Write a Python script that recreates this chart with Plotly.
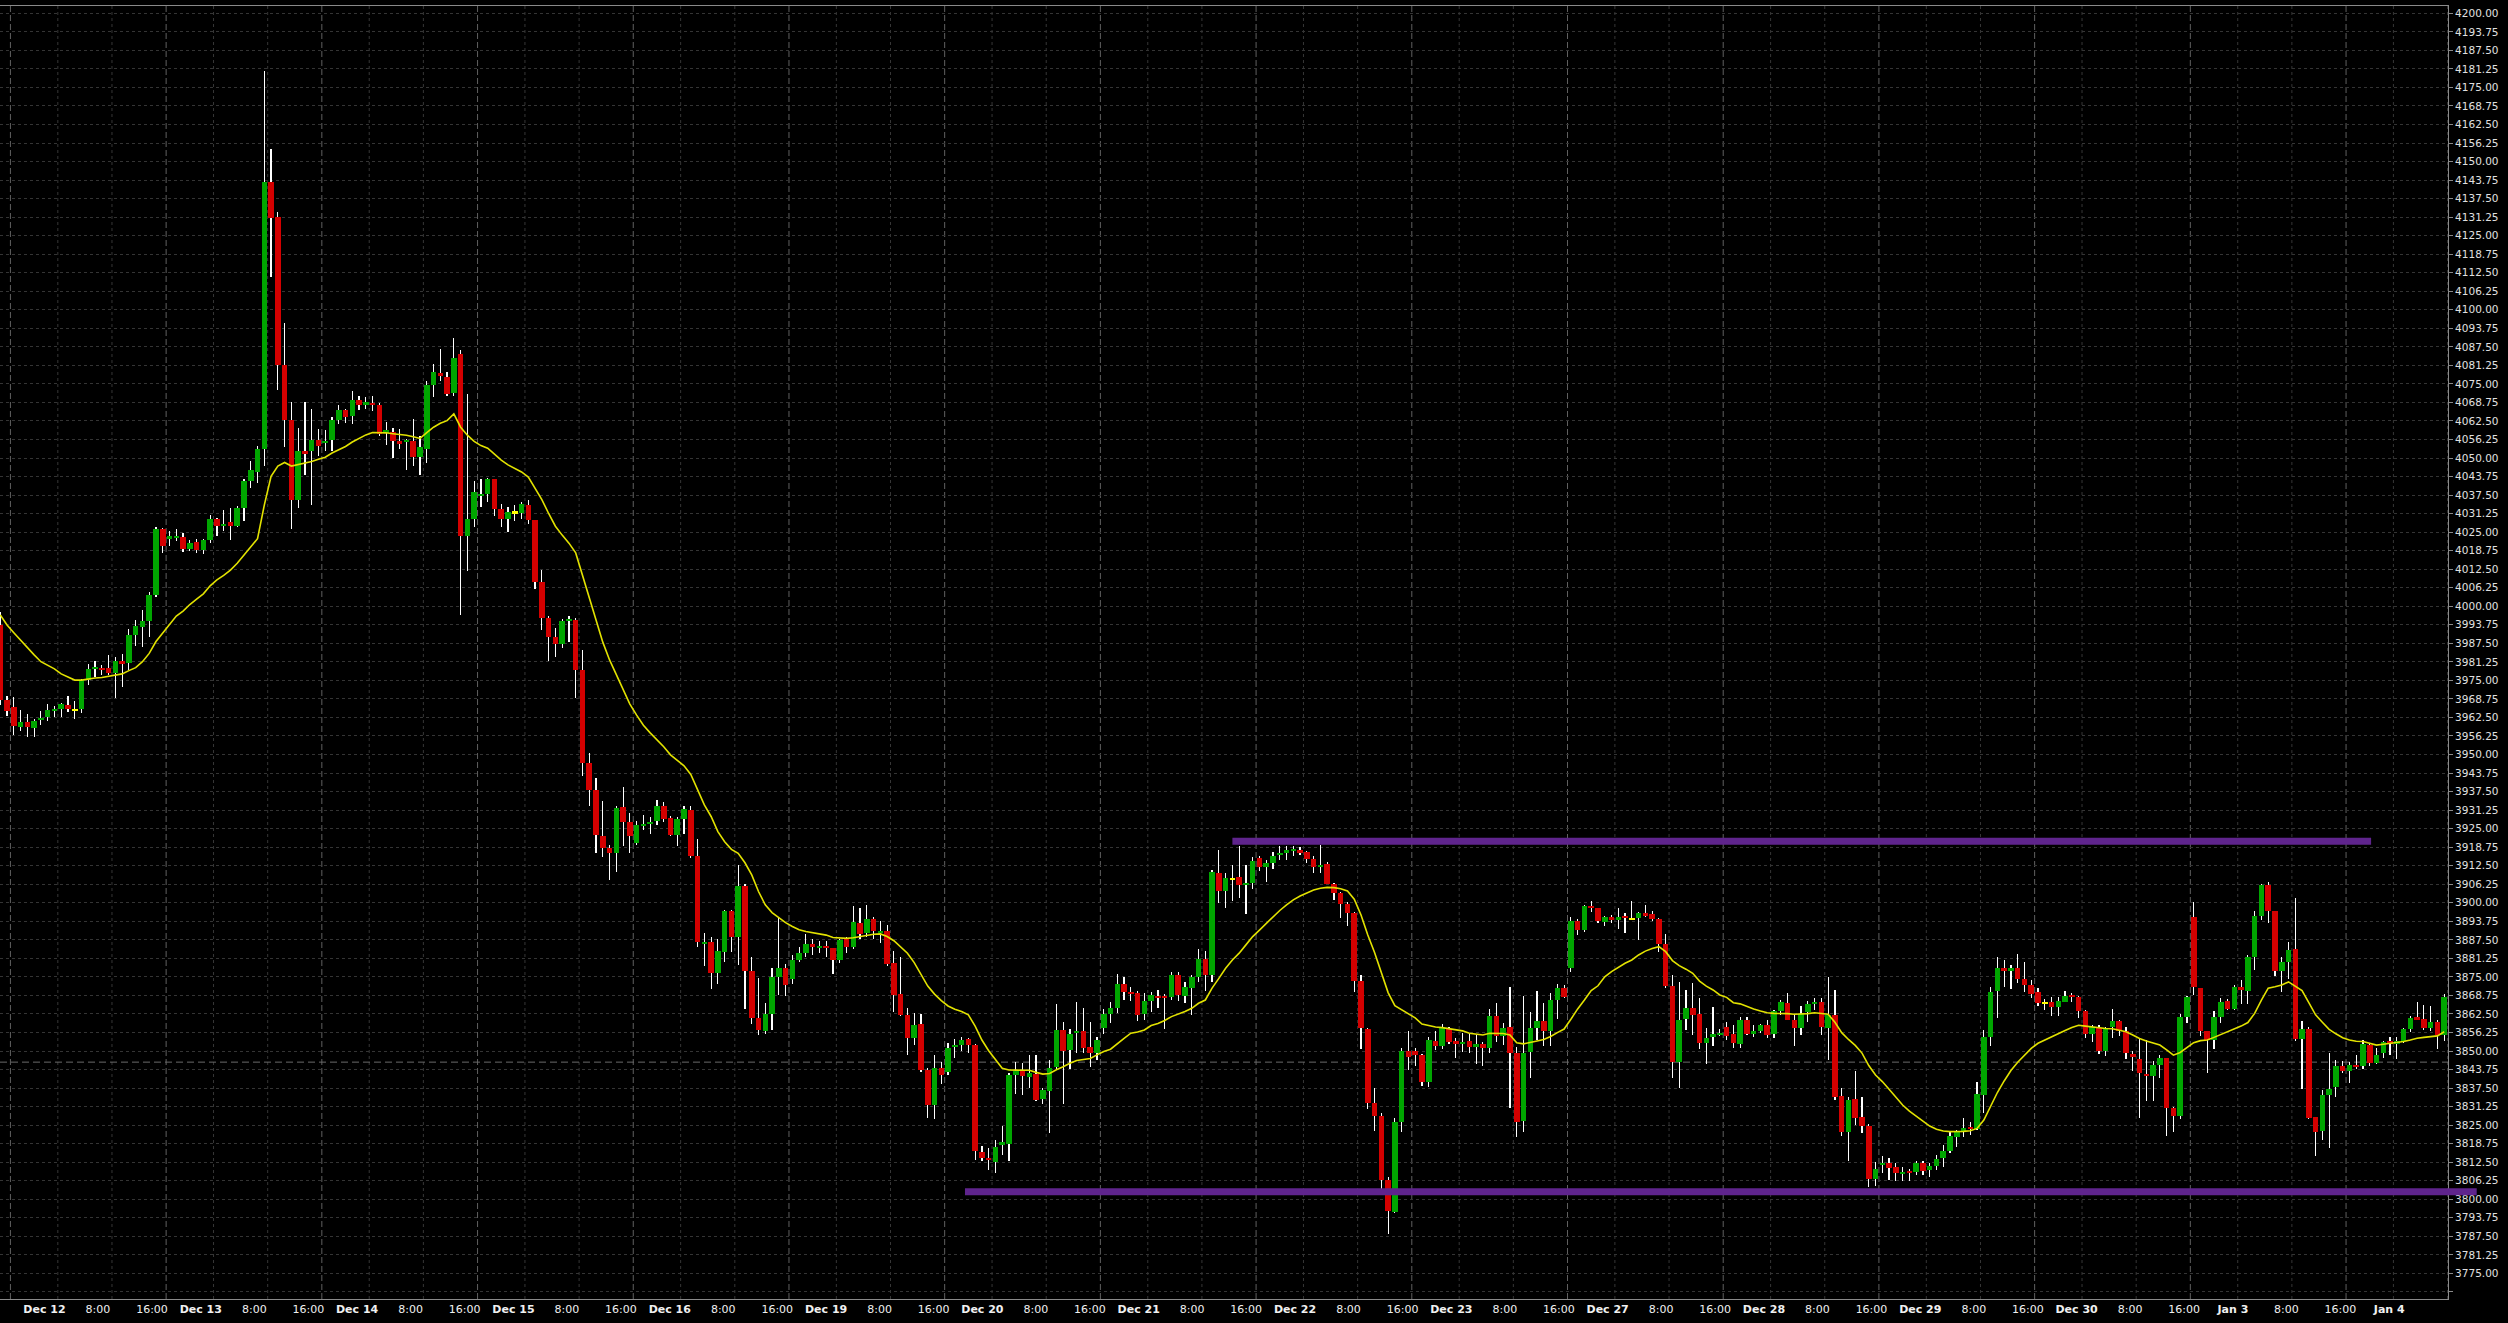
import plotly.graph_objects as go

# ---------------- data (hourly ES candles) ----------------
opens = [
    3993.7, 3968.4, 3966.0, 3959.3, 3961.0, 3959.1, 3961.7, 3962.6, 3964.7, 3965.4,
    3966.7, 3965.1, 3965.4, 3975.1, 3978.9, 3979.2, 3979.2, 3977.5, 3981.6, 3980.9,
    3990.3, 3993.0, 3995.2, 4003.9, 4026.1, 4023.0, 4022.9, 4023.5, 4019.4, 4021.7,
    4019.0, 4022.5, 4029.4, 4027.1, 4028.3, 4027.1, 4033.0, 4042.2, 4045.3, 4053.2,
    4143.1, 4131.3, 4081.3, 4062.9, 4035.8, 4052.4, 4052.4, 4056.0, 4055.0, 4056.0,
    4062.9, 4066.3, 4064.2, 4069.6, 4068.2, 4068.7, 4068.0, 4058.4, 4058.9, 4055.6,
    4055.3, 4055.7, 4050.5, 4053.2, 4074.6, 4078.6, 4077.3, 4072.0, 4085.0, 4023.7,
    4029.6, 4037.2, 4037.8, 4042.9, 4032.7, 4029.6, 4031.7, 4031.3, 4034.2, 4029.2,
    4008.3, 3996.2, 3989.8, 3987.4, 3995.0, 3995.4, 3978.6, 3947.0, 3937.9, 3922.6,
    3918.6, 3916.9, 3932.3, 3927.3, 3920.3, 3926.0, 3926.6, 3927.5, 3932.6, 3928.6,
    3923.0, 3928.2, 3931.3, 3915.9, 3886.2, 3886.8, 3876.4, 3883.5, 3897.2, 3888.6,
    3905.8, 3877.1, 3861.3, 3856.8, 3862.5, 3875.0, 3878.0, 3874.3, 3880.7, 3883.1,
    3886.2, 3885.0, 3885.4, 3884.7, 3880.8, 3887.9, 3885.2, 3893.2, 3889.9, 3894.5,
    3890.0, 3890.5, 3879.7, 3869.2, 3862.2, 3854.5, 3859.1, 3843.7, 3831.8, 3844.3,
    3843.0, 3851.2, 3852.0, 3853.9, 3852.0, 3816.1, 3813.9, 3812.5, 3818.2, 3818.8,
    3841.9, 3843.3, 3841.4, 3842.1, 3833.8, 3836.6, 3844.6, 3857.1, 3850.4, 3856.0,
    3856.8, 3851.2, 3849.5, 3857.7, 3862.5, 3864.6, 3872.6, 3869.9, 3869.5, 3862.5,
    3866.9, 3868.5, 3868.5, 3868.3, 3875.6, 3868.7, 3871.4, 3875.0, 3881.0, 3875.6,
    3910.1, 3904.1, 3908.1, 3908.7, 3905.9, 3906.7, 3915.2, 3911.9, 3913.5, 3916.2,
    3916.9, 3917.6, 3917.8, 3917.1, 3914.8, 3912.0, 3913.1, 3906.5, 3903.4, 3899.6,
    3896.5, 3873.6, 3857.4, 3832.5, 3828.2, 3806.5, 3795.8, 3826.2, 3850.1, 3850.1,
    3848.7, 3839.7, 3853.5, 3851.8, 3857.5, 3853.4, 3852.6, 3853.4, 3851.4, 3852.4,
    3851.0, 3861.8, 3855.1, 3858.0, 3849.2, 3826.5, 3849.8, 3857.8, 3860.1, 3856.9,
    3867.2, 3871.3, 3878.1, 3893.7, 3890.8, 3898.9, 3898.2, 3893.6, 3895.1, 3894.5,
    3895.5, 3894.5, 3895.0, 3896.4, 3896.2, 3894.5, 3886.1, 3871.9, 3846.3, 3860.7,
    3864.5, 3862.5, 3852.8, 3854.7, 3855.5, 3858.0, 3855.7, 3852.2, 3860.5, 3855.9,
    3856.9, 3858.8, 3855.8, 3863.5, 3866.2, 3860.5, 3857.9, 3863.2, 3865.9, 3866.5,
    3857.9, 3862.1, 3834.8, 3822.8, 3833.8, 3827.6, 3824.7, 3806.9, 3811.6, 3812.2,
    3811.0, 3808.6, 3809.5, 3809.3, 3812.2, 3810.0, 3811.3, 3814.0, 3816.3, 3821.1,
    3822.8, 3824.4, 3823.6, 3835.2, 3854.7, 3870.4, 3878.0, 3877.1, 3878.0, 3874.3,
    3872.3, 3869.9, 3866.3, 3866.5, 3864.9, 3866.6, 3868.9, 3868.2, 3863.5, 3855.9,
    3857.8, 3850.1, 3858.0, 3860.1, 3856.6, 3849.0, 3847.3, 3842.3, 3841.7, 3845.3,
    3847.8, 3830.9, 3828.2, 3861.6, 3895.3, 3871.4, 3856.9, 3853.7, 3861.6, 3866.9,
    3864.2, 3871.7, 3870.3, 3881.8, 3895.7, 3906.0, 3897.3, 3877.1, 3880.1, 3884.4,
    3854.1, 3857.4, 3827.9, 3823.0, 3835.2, 3837.7, 3845.1, 3843.1, 3845.3, 3845.1,
    3852.0, 3845.9, 3849.2, 3853.4, 3852.5, 3853.4, 3857.4, 3861.5, 3860.7, 3857.9,
    3859.8, 3855.4,
]
highs = [
    3998.2, 3969.7, 3969.5, 3965.0, 3963.7, 3961.9, 3964.7, 3967.0, 3966.2, 3967.5,
    3969.6, 3968.1, 3975.5, 3980.5, 3981.6, 3980.2, 3983.6, 3982.9, 3983.9, 3992.3,
    3995.4, 3998.8, 4004.7, 4026.8, 4026.5, 4025.3, 4026.1, 4024.6, 4022.3, 4022.7,
    4022.8, 4030.9, 4029.8, 4032.5, 4033.3, 4033.7, 4042.9, 4049.1, 4054.2, 4180.4,
    4154.2, 4133.1, 4095.6, 4068.8, 4060.1, 4068.8, 4066.7, 4059.8, 4059.3, 4063.8,
    4067.8, 4066.7, 4072.6, 4070.8, 4070.6, 4071.0, 4068.4, 4062.2, 4060.0, 4059.8,
    4056.5, 4063.3, 4057.3, 4076.0, 4081.6, 4086.8, 4078.9, 4090.6, 4086.5, 4071.6,
    4042.2, 4042.9, 4043.3, 4043.0, 4034.5, 4033.6, 4034.0, 4035.3, 4036.0, 4029.2,
    4012.2, 3996.6, 3992.7, 3995.8, 3996.6, 3996.2, 3985.3, 3950.5, 3942.2, 3934.3,
    3919.5, 3932.6, 3939.0, 3930.2, 3927.5, 3929.7, 3928.9, 3934.6, 3933.9, 3929.3,
    3928.9, 3932.6, 3932.6, 3921.5, 3889.7, 3888.6, 3887.7, 3897.5, 3897.5, 3912.8,
    3906.2, 3881.7, 3874.7, 3866.1, 3877.9, 3895.3, 3879.4, 3882.4, 3885.2, 3889.4,
    3887.8, 3887.0, 3887.0, 3884.9, 3887.7, 3888.6, 3898.9, 3898.2, 3899.3, 3895.2,
    3893.9, 3892.5, 3883.7, 3881.6, 3864.4, 3862.7, 3862.5, 3844.2, 3848.7, 3846.4,
    3852.6, 3854.0, 3854.8, 3854.5, 3852.3, 3818.0, 3817.2, 3820.0, 3824.7, 3842.5,
    3846.3, 3845.9, 3848.7, 3848.7, 3837.6, 3847.0, 3865.8, 3859.8, 3857.3, 3866.5,
    3864.6, 3859.8, 3854.7, 3864.2, 3866.5, 3876.0, 3874.9, 3871.7, 3870.4, 3869.5,
    3870.0, 3870.6, 3869.2, 3876.8, 3876.8, 3873.3, 3875.6, 3884.3, 3883.7, 3911.1,
    3917.8, 3910.2, 3912.8, 3919.0, 3912.6, 3915.6, 3915.8, 3914.4, 3917.1, 3919.2,
    3919.3, 3919.3, 3918.7, 3917.6, 3915.8, 3919.5, 3913.9, 3906.8, 3903.6, 3900.4,
    3896.8, 3875.6, 3857.7, 3837.6, 3829.0, 3807.6, 3827.5, 3850.9, 3856.9, 3850.9,
    3848.9, 3854.8, 3856.9, 3859.1, 3858.2, 3854.3, 3856.0, 3856.0, 3855.4, 3853.2,
    3864.1, 3866.3, 3859.6, 3871.7, 3851.5, 3868.6, 3863.0, 3870.2, 3866.3, 3869.5,
    3872.6, 3872.3, 3895.3, 3894.4, 3899.3, 3900.6, 3898.4, 3895.5, 3896.0, 3898.4,
    3896.7, 3900.6, 3897.0, 3899.3, 3897.2, 3894.8, 3889.5, 3875.6, 3873.2, 3870.6,
    3872.8, 3867.8, 3857.7, 3864.7, 3857.3, 3859.9, 3858.8, 3861.4, 3861.6, 3858.8,
    3859.1, 3860.5, 3863.8, 3867.2, 3869.6, 3862.2, 3865.2, 3866.9, 3867.9, 3867.9,
    3874.8, 3870.6, 3837.4, 3834.6, 3843.3, 3834.6, 3825.4, 3812.6, 3814.6, 3814.0,
    3812.4, 3811.0, 3810.3, 3812.8, 3812.8, 3812.1, 3814.8, 3818.3, 3822.8, 3823.4,
    3827.3, 3826.2, 3839.7, 3857.1, 3871.7, 3881.6, 3880.7, 3879.0, 3882.7, 3880.0,
    3874.0, 3871.1, 3867.4, 3868.3, 3868.3, 3870.4, 3869.5, 3868.6, 3863.8, 3858.7,
    3858.7, 3858.2, 3864.1, 3860.5, 3858.2, 3850.1, 3854.3, 3853.7, 3846.6, 3848.7,
    3847.8, 3831.2, 3862.5, 3868.6, 3900.4, 3871.4, 3856.9, 3863.6, 3868.0, 3867.5,
    3872.2, 3874.0, 3882.4, 3897.3, 3906.3, 3906.9, 3897.3, 3881.6, 3886.9, 3901.7,
    3860.1, 3858.0, 3827.9, 3836.9, 3849.4, 3847.0, 3846.6, 3846.4, 3848.7, 3853.7,
    3852.8, 3850.9, 3853.4, 3854.8, 3854.8, 3857.9, 3861.8, 3866.7, 3865.5, 3865.3,
    3860.5, 3869.4,
]
lows = [
    3966.7, 3963.0, 3956.6, 3958.0, 3956.0, 3956.0, 3960.0, 3961.4, 3962.6, 3962.8,
    3964.3, 3961.9, 3964.1, 3973.5, 3976.0, 3976.8, 3976.8, 3968.9, 3972.9, 3978.5,
    3986.6, 3986.3, 3989.5, 4003.0, 4017.9, 4020.2, 4022.0, 4018.4, 4018.7, 4017.9,
    4017.5, 4021.2, 4023.8, 4025.3, 4022.5, 4026.8, 4028.6, 4039.9, 4041.7, 4047.3,
    4111.1, 4072.9, 4053.8, 4026.1, 4033.0, 4044.3, 4034.0, 4050.6, 4052.4, 4052.4,
    4061.4, 4061.9, 4061.4, 4066.3, 4066.6, 4066.0, 4057.6, 4054.5, 4050.0, 4052.9,
    4046.0, 4047.3, 4044.4, 4048.4, 4070.6, 4076.0, 4070.9, 4071.0, 3997.0, 4011.9,
    4026.9, 4033.5, 4035.2, 4030.5, 4026.7, 4024.9, 4028.6, 4029.6, 4027.8, 4005.9,
    3992.0, 3981.7, 3983.0, 3985.9, 3988.0, 3969.1, 3942.6, 3932.7, 3916.7, 3915.5,
    3907.7, 3910.3, 3919.0, 3916.9, 3919.5, 3924.6, 3923.3, 3926.2, 3927.3, 3922.6,
    3919.0, 3923.3, 3915.0, 3885.2, 3878.8, 3871.0, 3872.7, 3880.1, 3883.5, 3879.0,
    3864.3, 3859.2, 3855.3, 3855.6, 3857.1, 3868.8, 3868.6, 3872.5, 3880.1, 3881.8,
    3882.4, 3883.0, 3881.8, 3875.9, 3879.8, 3883.0, 3884.3, 3887.7, 3888.6, 3887.7,
    3886.3, 3878.7, 3863.3, 3861.8, 3848.7, 3852.0, 3843.0, 3827.5, 3827.1, 3838.9,
    3841.9, 3847.8, 3850.1, 3849.5, 3813.3, 3812.8, 3810.0, 3809.0, 3814.9, 3813.0,
    3835.4, 3835.3, 3837.4, 3833.0, 3832.1, 3822.3, 3843.6, 3832.1, 3844.1, 3849.2,
    3849.2, 3844.7, 3847.0, 3855.8, 3859.4, 3862.9, 3867.2, 3867.0, 3860.2, 3860.5,
    3863.1, 3864.4, 3857.5, 3867.2, 3867.0, 3866.1, 3862.2, 3873.2, 3870.4, 3873.4,
    3900.0, 3898.4, 3900.6, 3901.7, 3896.2, 3904.5, 3910.8, 3907.0, 3911.4, 3914.4,
    3914.4, 3915.8, 3916.1, 3913.3, 3909.9, 3909.9, 3906.4, 3900.9, 3895.0, 3892.0,
    3870.0, 3850.6, 3830.4, 3823.1, 3803.4, 3788.3, 3795.3, 3822.8, 3843.6, 3845.0,
    3838.2, 3837.7, 3850.4, 3850.7, 3852.4, 3847.8, 3849.8, 3849.5, 3845.6, 3845.0,
    3849.2, 3853.2, 3852.0, 3830.7, 3821.1, 3822.8, 3841.0, 3853.7, 3851.7, 3851.7,
    3860.7, 3867.8, 3876.8, 3889.1, 3890.3, 3897.0, 3893.1, 3892.2, 3893.1, 3891.3,
    3889.9, 3894.2, 3887.5, 3895.1, 3894.0, 3883.5, 3871.2, 3841.0, 3837.4, 3857.1,
    3855.4, 3850.7, 3845.6, 3851.7, 3854.9, 3853.7, 3850.9, 3850.9, 3855.4, 3854.6,
    3856.0, 3854.3, 3854.5, 3862.2, 3860.5, 3851.8, 3855.4, 3859.9, 3863.8, 3855.5,
    3847.0, 3833.5, 3821.3, 3813.0, 3824.9, 3822.3, 3804.2, 3804.5, 3808.8, 3806.5,
    3806.2, 3806.2, 3806.2, 3808.2, 3808.2, 3807.6, 3809.9, 3811.0, 3815.5, 3817.7,
    3821.1, 3821.7, 3823.4, 3829.0, 3851.8, 3861.3, 3871.5, 3870.9, 3872.8, 3869.9,
    3868.0, 3865.2, 3863.8, 3861.9, 3861.9, 3866.4, 3866.6, 3861.0, 3854.5, 3853.2,
    3849.0, 3848.4, 3854.5, 3855.0, 3847.3, 3843.1, 3827.5, 3833.3, 3833.3, 3840.8,
    3821.5, 3822.8, 3827.1, 3859.6, 3868.9, 3854.9, 3842.7, 3850.8, 3859.6, 3864.0,
    3864.0, 3865.9, 3865.9, 3877.3, 3894.2, 3893.3, 3875.3, 3870.0, 3874.2, 3853.5,
    3837.2, 3827.0, 3814.6, 3819.9, 3817.2, 3834.5, 3842.5, 3839.3, 3843.9, 3844.0,
    3845.1, 3845.5, 3847.6, 3848.7, 3847.2, 3852.6, 3856.5, 3860.5, 3857.1, 3856.9,
    3850.8, 3853.4,
]
closes = [
    3968.4, 3964.7, 3959.6, 3961.0, 3959.3, 3961.3, 3962.3, 3965.0, 3965.4, 3967.0,
    3965.4, 3965.1, 3975.1, 3978.9, 3979.5, 3978.5, 3977.5, 3981.6, 3980.5, 3990.3,
    3993.4, 3995.0, 4003.9, 4026.1, 4020.2, 4023.6, 4023.8, 4019.4, 4021.5, 4019.0,
    4022.5, 4029.4, 4027.1, 4027.9, 4027.1, 4033.0, 4042.2, 4045.8, 4053.2, 4143.1,
    4131.0, 4081.3, 4062.9, 4035.8, 4052.4, 4051.4, 4056.0, 4053.9, 4055.7, 4062.9,
    4066.3, 4063.9, 4069.6, 4067.8, 4068.7, 4068.0, 4058.2, 4059.4, 4055.6, 4055.0,
    4056.2, 4050.5, 4053.7, 4074.6, 4079.0, 4077.6, 4071.7, 4083.7, 4023.7, 4029.6,
    4038.5, 4037.8, 4042.9, 4032.7, 4029.6, 4031.8, 4031.7, 4034.5, 4029.2, 4008.3,
    3996.2, 3989.8, 3987.4, 3995.2, 3995.7, 3978.6, 3947.0, 3937.9, 3922.9, 3918.6,
    3916.9, 3932.0, 3927.3, 3922.6, 3926.2, 3926.7, 3927.3, 3932.6, 3928.3, 3923.0,
    3928.2, 3931.5, 3915.9, 3886.9, 3886.8, 3876.4, 3883.7, 3897.2, 3888.6, 3905.8,
    3877.1, 3861.3, 3857.2, 3862.5, 3875.0, 3878.0, 3872.3, 3880.7, 3883.1, 3886.2,
    3885.1, 3885.4, 3884.9, 3880.8, 3887.4, 3885.2, 3893.5, 3889.5, 3894.5, 3890.5,
    3890.5, 3879.5, 3868.9, 3862.2, 3854.5, 3858.8, 3843.7, 3831.8, 3844.3, 3841.9,
    3851.0, 3852.0, 3853.7, 3852.0, 3816.4, 3813.8, 3813.3, 3817.7, 3819.2, 3841.9,
    3843.3, 3841.7, 3842.7, 3833.5, 3836.9, 3844.3, 3857.1, 3850.1, 3855.7, 3856.9,
    3851.1, 3849.5, 3853.7, 3862.5, 3864.6, 3872.6, 3869.9, 3869.2, 3862.2, 3866.9,
    3868.9, 3868.0, 3868.0, 3875.6, 3868.9, 3871.7, 3875.0, 3881.0, 3875.6, 3910.5,
    3904.1, 3908.5, 3908.1, 3905.9, 3906.7, 3914.1, 3911.9, 3913.5, 3915.8, 3916.9,
    3917.8, 3918.2, 3916.9, 3914.9, 3911.9, 3912.7, 3906.5, 3903.4, 3899.6, 3896.5,
    3873.6, 3857.9, 3832.5, 3828.2, 3806.5, 3796.2, 3826.2, 3850.1, 3848.1, 3848.7,
    3839.7, 3853.7, 3851.8, 3857.8, 3853.2, 3852.3, 3853.2, 3851.4, 3852.4, 3851.0,
    3861.8, 3855.1, 3857.8, 3849.2, 3825.9, 3849.5, 3857.8, 3860.1, 3856.9, 3867.2,
    3871.3, 3868.1, 3893.7, 3890.8, 3898.9, 3898.2, 3894.0, 3895.1, 3894.5, 3895.1,
    3895.0, 3894.5, 3896.4, 3895.8, 3894.5, 3886.1, 3871.9, 3846.3, 3860.5, 3864.5,
    3862.2, 3852.8, 3854.3, 3855.7, 3856.2, 3855.2, 3852.6, 3860.5, 3855.9, 3856.9,
    3858.8, 3855.4, 3863.5, 3866.5, 3860.5, 3857.9, 3862.4, 3865.9, 3866.5, 3858.1,
    3862.1, 3834.6, 3822.8, 3833.5, 3827.5, 3824.7, 3806.9, 3810.1, 3812.2, 3810.7,
    3809.0, 3809.3, 3809.0, 3812.2, 3809.5, 3811.3, 3813.6, 3816.3, 3821.3, 3822.8,
    3824.0, 3823.6, 3835.5, 3854.7, 3869.9, 3878.0, 3877.1, 3878.0, 3874.3, 3872.3,
    3869.3, 3866.3, 3866.3, 3864.9, 3866.9, 3868.6, 3868.3, 3863.5, 3855.9, 3858.2,
    3850.1, 3857.8, 3860.1, 3856.8, 3849.2, 3847.9, 3842.5, 3841.7, 3845.3, 3847.8,
    3830.7, 3828.2, 3861.6, 3868.3, 3871.7, 3856.9, 3853.7, 3861.6, 3866.7, 3864.2,
    3871.7, 3870.6, 3881.8, 3895.7, 3906.0, 3897.3, 3877.1, 3880.1, 3884.1, 3854.1,
    3857.4, 3827.5, 3822.8, 3835.2, 3837.1, 3845.1, 3843.4, 3845.3, 3844.6, 3852.5,
    3845.9, 3848.7, 3853.2, 3852.5, 3853.4, 3857.4, 3861.2, 3860.6, 3857.9, 3859.8,
    3855.4, 3868.3,
]
moving_avg = [
    3997.1, 3993.7, 3991.1, 3988.6, 3985.8, 3983.6, 3981.3, 3980.0, 3978.9, 3977.2,
    3976.2, 3975.1, 3975.1, 3975.5, 3975.8, 3976.0, 3976.4, 3976.7, 3977.2, 3978.3,
    3979.3, 3981.3, 3984.1, 3988.1, 3990.9, 3993.7, 3996.7, 3998.4, 4000.6, 4002.4,
    4004.2, 4006.9, 4008.9, 4010.4, 4012.2, 4014.5, 4017.2, 4020.1, 4022.8, 4034.1,
    4043.8, 4047.3, 4048.5, 4047.3, 4047.8, 4048.2, 4048.8, 4049.6, 4050.3, 4051.7,
    4052.9, 4053.9, 4055.4, 4056.6, 4057.8, 4058.6, 4058.6, 4058.5, 4058.2, 4058.0,
    4057.7, 4057.2, 4056.6, 4058.6, 4060.4, 4061.7, 4062.6, 4064.9, 4060.4, 4057.7,
    4055.6, 4054.2, 4053.3, 4051.3, 4049.3, 4047.7, 4046.6, 4045.3, 4043.6, 4040.0,
    4036.0, 4031.3, 4027.0, 4024.0, 4021.3, 4018.0, 4010.6, 4003.3, 3995.3, 3987.9,
    3981.9, 3976.9, 3971.9, 3967.0, 3963.3, 3959.9, 3957.3, 3955.0, 3952.6, 3949.9,
    3947.9, 3946.2, 3943.3, 3937.9, 3933.0, 3929.1, 3924.0, 3920.6, 3918.0, 3916.7,
    3913.5, 3909.4, 3903.8, 3899.3, 3896.7, 3895.0, 3893.3, 3892.0, 3890.9, 3890.3,
    3889.9, 3889.7, 3889.1, 3888.3, 3888.1, 3888.0, 3888.2, 3888.6, 3889.0, 3889.4,
    3889.5, 3888.6, 3887.2, 3885.2, 3883.0, 3879.8, 3876.0, 3871.9, 3869.2, 3867.0,
    3865.2, 3864.1, 3863.3, 3862.2, 3858.4, 3853.7, 3850.1, 3847.0, 3844.2, 3843.6,
    3843.6, 3843.6, 3843.5, 3842.8, 3842.2, 3842.4, 3843.7, 3844.7, 3845.9, 3846.8,
    3847.2, 3847.5, 3848.7, 3849.8, 3850.6, 3852.6, 3854.3, 3856.0, 3856.4, 3857.1,
    3858.6, 3859.3, 3860.3, 3861.6, 3862.4, 3863.3, 3864.4, 3866.1, 3867.2, 3871.2,
    3874.5, 3877.9, 3880.7, 3883.0, 3885.8, 3888.6, 3890.8, 3893.1, 3895.1, 3897.4,
    3899.3, 3901.0, 3902.3, 3903.4, 3904.3, 3904.9, 3905.2, 3905.1, 3904.7, 3904.0,
    3901.2, 3895.9, 3889.1, 3883.2, 3876.2, 3869.7, 3865.3, 3864.0, 3862.6, 3861.2,
    3859.1, 3858.6, 3858.1, 3857.9, 3857.5, 3857.1, 3856.8, 3856.0, 3855.6, 3855.4,
    3856.0, 3856.0, 3855.9, 3855.4, 3852.8, 3852.4, 3852.8, 3853.4, 3853.9, 3854.9,
    3856.2, 3857.4, 3860.7, 3864.2, 3867.2, 3870.4, 3872.0, 3875.0, 3876.8, 3878.3,
    3879.6, 3880.7, 3882.4, 3883.7, 3884.6, 3885.2, 3883.5, 3880.5, 3878.8, 3877.6,
    3876.2, 3873.6, 3871.9, 3870.6, 3868.9, 3868.1, 3866.3, 3865.9, 3865.0, 3864.2,
    3863.5, 3862.9, 3862.7, 3862.7, 3862.6, 3862.4, 3862.4, 3862.6, 3862.9, 3862.7,
    3862.4, 3859.7, 3856.2, 3853.9, 3851.9, 3849.3, 3845.1, 3841.9, 3839.7, 3837.1,
    3834.4, 3831.8, 3829.7, 3828.1, 3826.4, 3824.7, 3823.6, 3823.0, 3822.8, 3822.8,
    3822.9, 3823.1, 3823.9, 3826.7, 3831.2, 3836.0, 3839.9, 3843.4, 3846.2, 3848.6,
    3850.9, 3852.6, 3853.7, 3854.8, 3856.0, 3856.9, 3857.9, 3858.7, 3858.4, 3858.1,
    3857.8, 3857.6, 3857.5, 3857.1, 3856.5, 3855.4, 3854.2, 3853.4, 3852.8, 3852.0,
    3850.4, 3848.6, 3849.5, 3851.2, 3852.8, 3853.5, 3853.7, 3854.6, 3855.5, 3856.4,
    3857.4, 3858.4, 3859.6, 3862.7, 3867.2, 3871.2, 3871.7, 3872.3, 3873.3, 3871.9,
    3870.4, 3866.3, 3862.2, 3859.7, 3857.3, 3855.8, 3854.5, 3853.7, 3853.3, 3853.2,
    3852.6, 3852.0, 3852.3, 3852.6, 3852.8, 3853.2, 3853.7, 3854.3, 3854.6, 3854.9,
    3855.1, 3856.5,
]

day_labels = ["Dec 12", "Dec 13", "Dec 14", "Dec 15", "Dec 16", "Dec 19", "Dec 20",
              "Dec 21", "Dec 22", "Dec 23", "Dec 27", "Dec 28", "Dec 29", "Dec 30",
              "Jan 3", "Jan 4"]
time_labels = ["8:00", "16:00"]

resistance_level = 3920.75
support_level = 3802.5
reference_level = 3846.25

# ---------------- layout constants ----------------
BARS_PER_DAY = 23
X_LO, X_HI = -0.04, 361.56
Y_LO, Y_HI = 3766.36, 4202.46
UP_COL, DOWN_COL, DOJI_COL = "#00a600", "#d40000", "#ffff00"
BG = "#000000"

n = len(closes)
xs = list(range(n))

# candle bodies
body_base, body_height, body_color = [], [], []
for o, c in zip(opens, closes):
    lo, hi = min(o, c), max(o, c)
    if hi - lo < 0.6:
        mid = (lo + hi) / 2.0
        lo, hi = mid - 0.3, mid + 0.3
    body_base.append(lo)
    body_height.append(hi - lo)
    body_color.append(UP_COL if c > o else (DOWN_COL if c < o else DOJI_COL))

fig = go.Figure()
# wicks (thin bars, drawn first so bodies cover them)
fig.add_trace(go.Bar(
    x=xs, y=[h - l for h, l in zip(highs, lows)], base=lows, width=0.03,
    marker=dict(color="#ffffff", line=dict(width=0)), hoverinfo="skip", showlegend=False))
# bodies
fig.add_trace(go.Bar(
    x=xs, y=body_height, base=body_base, width=0.82,
    marker=dict(color=body_color, line=dict(width=0)), hoverinfo="skip", showlegend=False))
# moving average
fig.add_trace(go.Scatter(
    x=xs, y=moving_avg, mode="lines", line=dict(color="#e2e200", width=1.6),
    hoverinfo="skip", showlegend=False))

shapes = []
n_days = len(day_labels)
# vertical grid: session boundaries (dashed, brighter) and 8:00 / 16:00 (fine dotted)
for d in range(n_days):
    base = 1.5 + BARS_PER_DAY * d
    shapes.append(dict(type="line", xref="x", yref="paper", x0=base, x1=base, y0=0, y1=1,
                       line=dict(color="#606060", width=1, dash="6px,3px"), layer="below"))
    for off in (7, 15):
        p = base + off
        if p <= X_HI:
            shapes.append(dict(type="line", xref="x", yref="paper", x0=p, x1=p, y0=0, y1=1,
                               line=dict(color="#363636", width=1, dash="3px,3px"), layer="below"))
# reference dashed level
shapes.append(dict(type="line", xref="x", yref="y", x0=X_LO, x1=X_HI,
                   y0=reference_level, y1=reference_level,
                   line=dict(color="#6a6a6a", width=1, dash="7px,4px"), layer="below"))


def xp(i):
    return (i - X_LO) / (X_HI - X_LO)


def yp(v):
    return (v - Y_LO) / (Y_HI - Y_LO)


# purple support / resistance lines
shapes.append(dict(type="line", xref="paper", yref="paper", x0=xp(182.0), x1=xp(350.2),
                   y0=yp(resistance_level), y1=yp(resistance_level),
                   line=dict(color="#5f248d", width=7), layer="above"))
shapes.append(dict(type="line", xref="paper", yref="paper", x0=xp(142.5), x1=xp(365.8),
                   y0=yp(support_level), y1=yp(support_level),
                   line=dict(color="#5f248d", width=7), layer="above"))

# x tick labels
tickvals, ticktext = [], []
for d, lab in enumerate(day_labels):
    p0 = 6.53 + 23.09 * d
    for off, txt in ((0.0, "<b>" + lab + "</b>"), (7.9, time_labels[0]), (15.88, time_labels[1])):
        p = p0 + off
        if 0 <= p <= 358:
            tickvals.append(p)
            ticktext.append(txt)

# y tick labels
ytickvals = [3768.75 + 6.25 * k for k in range(70)]
yticktext = ["" if k == 0 else "%.2f" % v for k, v in enumerate(ytickvals)]

fig.update_layout(
    width=2508, height=1323,
    paper_bgcolor=BG, plot_bgcolor=BG,
    margin=dict(l=0, r=60, t=6, b=24),
    barmode="overlay", bargap=0, bargroupgap=0,
    showlegend=False, hovermode=False, dragmode=False,
    shapes=shapes,
    xaxis=dict(
        range=[X_LO, X_HI], tickmode="array", tickvals=tickvals, ticktext=ticktext,
        showgrid=False, zeroline=False, showline=True, linecolor="#8a8a8a", linewidth=1,
        mirror=True, ticks="", tickfont=dict(family="DejaVu Sans", size=11, color="#f0f0f0"),
        fixedrange=True, automargin=False,
    ),
    yaxis=dict(
        range=[Y_LO, Y_HI], side="right", tickmode="array", tickvals=ytickvals,
        ticktext=yticktext, showgrid=True, gridcolor="#343434", gridwidth=1,
        griddash="3px,3px", zeroline=False, showline=True, linecolor="#8a8a8a",
        linewidth=1, mirror=True, ticks="outside", ticklen=4, tickcolor="#8a8a8a",
        tickfont=dict(family="DejaVu Sans", size=10.5, color="#e0e0e0"), fixedrange=True,
        automargin=False,
    ),
)

fig.write_html(
    "out.html",
    config={"displayModeBar": False, "staticPlot": False},
    post_script="document.body.style.margin='0';document.body.style.padding='0';"
                "document.body.style.overflow='hidden';",
)
